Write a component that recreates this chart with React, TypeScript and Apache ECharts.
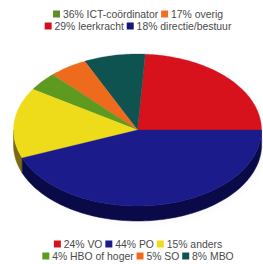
import React, { useEffect, useRef } from "react";
import * as echarts from "echarts";

// Top legend (from the chart above)
const topNames = ["ICT-coördinator", "overig", "leerkracht", "directie/bestuur"];
const topValues = [36, 17, 29, 18];
const topColors = ["#5e8f1f", "#f0701e", "#d3101e", "#14167a"];
const topLines = [[0, 1], [2, 3]];

// Pie data (counter-clockwise from 3 o'clock)
const pieNames = ["VO", "MBO", "SO", "HBO of hoger", "anders", "PO"];
const pieValues = [24, 8, 5, 4, 15, 44];
const pieColors = ["#d7121c", "#0f5350", "#ee6a1c", "#5f9a20", "#eedc1a", "#1b1b8c"];
const sideColors = ["#7a0a10", "#073030", "#8a3c10", "#3a5c12", "#7c6a12", "#0a0a48"];
// bottom legend order (indices into pie arrays)
const bottomLines = [[0, 5, 4], [3, 2, 1]];

const FS = 10.4;
const FONT = "Liberation Sans";

function legendText(names: string[], values: number[], colors: string[], idx: number[]) {
  const rich: any = {
    t: { fontSize: FS, lineHeight: 11, fontFamily: FONT, color: "#4a4a4a" },
  };
  let text = "";
  idx.forEach((k, j) => {
    rich["s" + k] = { width: 7, height: 7, lineHeight: 11, backgroundColor: colors[k] };
    text += `{s${k}|}{t| ${values[k]}% ${names[k]}${j < idx.length - 1 ? " " : ""}}`;
  });
  return { text, rich };
}

export default function App() {
  const ref = useRef<HTMLDivElement>(null);
  useEffect(() => {
    document.body.style.margin = "0";
    const chart = echarts.init(ref.current!, null, { renderer: "svg" });
    const cx = 137.5, cy = 130, rx = 124, ry = 76, h = 15;
    const total = pieValues.reduce((a, b) => a + b, 0);
    const graphics: any[] = [];
    topLines.forEach((line, li) => {
      const { text, rich } = legendText(topNames, topValues, topColors, line);
      graphics.push({
        type: "text", x: 138, y: 14 + li * 12,
        style: { text, rich, align: "center", verticalAlign: "middle", fontFamily: FONT, fontSize: FS, lineHeight: 11, fill: "#4a4a4a" },
      });
    });
    bottomLines.forEach((line, li) => {
      const { text, rich } = legendText(pieNames, pieValues, pieColors, line);
      graphics.push({
        type: "text", x: 138, y: 244 + li * 12,
        style: { text, rich, align: "center", verticalAlign: "middle", fontFamily: FONT, fontSize: FS, lineHeight: 11, fill: "#4a4a4a" },
      });
    });
    graphics.push({
      type: "ellipse", z: -1,
      shape: { cx: cx + 3, cy: cy + h - 2, rx: rx - 2, ry: ry - 1 },
      style: { fill: "rgba(0,0,0,0.12)", shadowBlur: 10, shadowColor: "rgba(0,0,0,0.35)", shadowOffsetY: 3 },
    });

    chart.setOption({
      animation: false,
      graphic: graphics,
      series: [
        {
          type: "custom",
          coordinateSystem: "none",
          data: pieValues.map((v, i) => ({ name: pieNames[i], value: v })),
          renderItem: (params: any, api: any) => {
            const i = params.dataIndex;
            let start = 0;
            for (let j = 0; j < i; j++) start += pieValues[j];
            const v = api.value(0);
            const a0 = (start / total) * Math.PI * 2;
            const a1 = ((start + v) / total) * Math.PI * 2;
            const pt = (a: number, dy = 0) => [cx + rx * Math.cos(a), cy - ry * Math.sin(a) + dy];
            const n = Math.max(2, Math.ceil((a1 - a0) / 0.02));
            const top: number[][] = [[cx, cy]];
            for (let k = 0; k <= n; k++) top.push(pt(a0 + ((a1 - a0) * k) / n));
            const children: any[] = [];
            const s0 = Math.max(a0, Math.PI), s1 = Math.min(a1, Math.PI * 2);
            if (s1 > s0) {
              const m = Math.max(2, Math.ceil((s1 - s0) / 0.02));
              const upper: number[][] = [], lower: number[][] = [];
              for (let k = 0; k <= m; k++) {
                const a = s0 + ((s1 - s0) * k) / m;
                upper.push(pt(a));
                lower.push(pt(a, h));
              }
              children.push({
                type: "polygon",
                shape: { points: upper.concat(lower.reverse()) },
                style: { fill: sideColors[i], stroke: sideColors[i], lineWidth: 0.5 },
              });
            }
            children.push({
              type: "polygon",
              shape: { points: top },
              style: { fill: pieColors[i], stroke: pieColors[i], lineWidth: 0.3 },
            });
            return { type: "group", children };
          },
        },
      ],
    });
    return () => chart.dispose();
  }, []);
  return <div ref={ref} style={{ width: 263, height: 264 }} />;
}
